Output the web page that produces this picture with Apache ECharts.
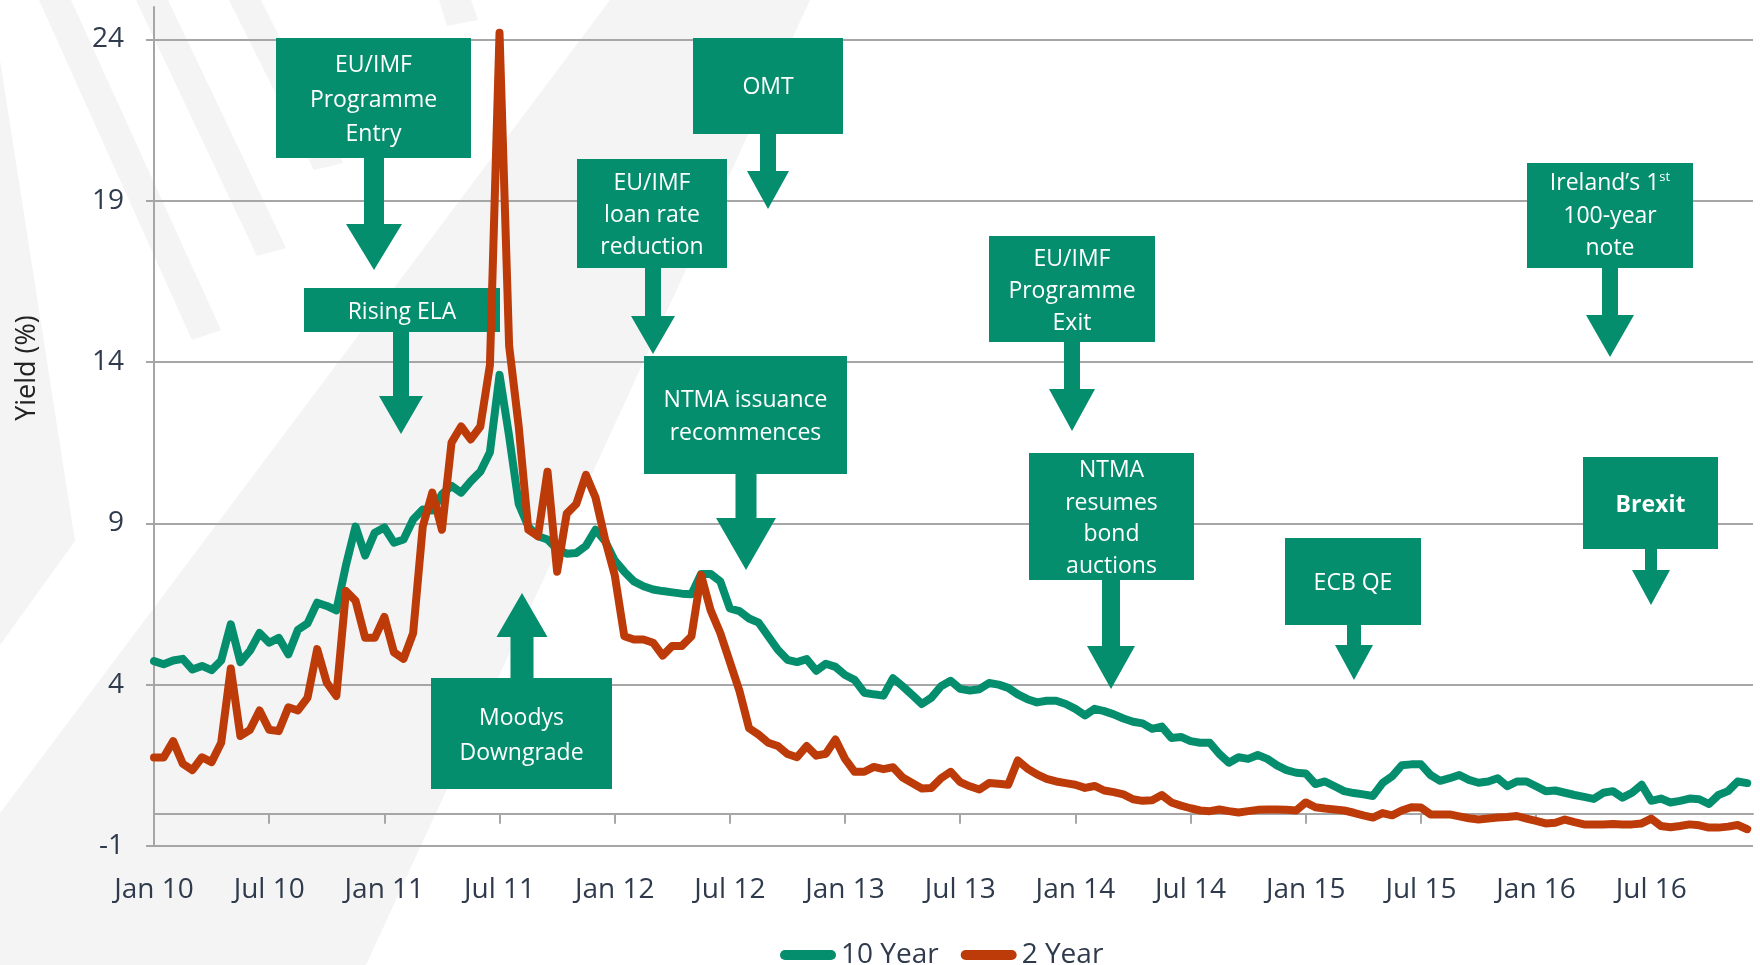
<!DOCTYPE html>
<html>
<head>
<meta charset="utf-8">
<script src="https://cdn.jsdelivr.net/npm/echarts@6/dist/echarts.min.js"></script>
<style>
  html, body { margin: 0; padding: 0; background: #fff; }
  #myChart { width: 1760px; height: 965px; }
</style>
</head>
<body>
<div id="myChart"></div>
<script>
// readings every half month, first point = Jan 2010
var monthStep = 0.5;
var tickMonths = [0, 6, 12, 18, 24, 30, 36, 42, 48, 54, 60, 66, 72, 78];
var tickLabels = ['Jan 10', 'Jul 10', 'Jan 11', 'Jul 11', 'Jan 12', 'Jul 12', 'Jan 13',
                  'Jul 13', 'Jan 14', 'Jul 14', 'Jan 15', 'Jul 15', 'Jan 16', 'Jul 16'];
var yTicks = [-1, 4, 9, 14, 19, 24];
var seriesNames = ['10 Year', '2 Year'];

var tenYear = [
  4.73, 4.63, 4.75, 4.8, 4.47, 4.58, 4.45, 4.75, 5.87, 4.7,
  5.05, 5.6, 5.3, 5.45, 4.94, 5.7, 5.9, 6.54, 6.44, 6.3,
  7.7, 8.9, 8.0, 8.71, 8.87, 8.4, 8.5, 9.12, 9.43, 9.4,
  9.9, 10.16, 9.95, 10.3, 10.6, 11.2, 13.6, 11.7, 9.6, 8.9,
  8.6, 8.5, 8.2, 8.06, 8.08, 8.3, 8.8, 8.45, 7.85, 7.5,
  7.2, 7.05, 6.95, 6.9, 6.86, 6.82, 6.8, 7.43, 7.43, 7.2,
  6.36, 6.28, 6.05, 5.92, 5.5, 5.08, 4.77, 4.7, 4.79, 4.43,
  4.65, 4.55, 4.3, 4.15, 3.75, 3.7, 3.66, 4.2, 3.95, 3.68,
  3.4, 3.6, 3.95, 4.12, 3.87, 3.82, 3.86, 4.05, 4.0, 3.9,
  3.7, 3.55, 3.45, 3.5, 3.5, 3.4, 3.25, 3.05, 3.25, 3.18,
  3.08, 2.95, 2.85, 2.8, 2.63, 2.7, 2.35, 2.38, 2.25, 2.2,
  2.2, 1.85, 1.58, 1.75, 1.7, 1.82, 1.7, 1.5, 1.35, 1.27,
  1.25, 0.92, 1.0, 0.85, 0.7, 0.64, 0.6, 0.55, 0.95, 1.16,
  1.5, 1.53, 1.53, 1.2, 1.02, 1.1, 1.2, 1.05, 0.96, 1.0,
  1.1, 0.85, 1.0, 1.0, 0.85, 0.7, 0.72, 0.65, 0.58, 0.52,
  0.46, 0.65, 0.7, 0.5, 0.65, 0.9, 0.4, 0.47, 0.35, 0.4,
  0.47, 0.45, 0.3, 0.58, 0.7, 1.0, 0.95
];

var twoYear = [
  1.74, 1.74, 2.25, 1.55, 1.35, 1.75, 1.6, 2.2, 4.5, 2.41,
  2.6, 3.2, 2.6, 2.56, 3.3, 3.2, 3.6, 5.1, 4.06, 3.65,
  6.9, 6.6, 5.45, 5.45, 6.1, 5.0, 4.8, 5.6, 8.9, 9.95,
  8.8, 11.5, 12.0, 11.6, 12.0, 13.9, 24.2, 14.5, 12.0, 8.8,
  8.6, 10.6, 7.5, 9.3, 9.6, 10.5, 9.8, 8.5, 7.4, 5.5,
  5.4, 5.4, 5.3, 4.9, 5.2, 5.2, 5.5, 7.4, 6.3, 5.6,
  4.7, 3.8, 2.65, 2.45, 2.2, 2.1, 1.85, 1.75, 2.1, 1.8,
  1.86, 2.3, 1.7, 1.3, 1.3, 1.45, 1.38, 1.44, 1.12, 0.95,
  0.78, 0.8, 1.1, 1.3, 0.98, 0.85, 0.75, 0.95, 0.93, 0.9,
  1.65, 1.4, 1.22, 1.08, 1.0, 0.95, 0.9, 0.8, 0.86, 0.72,
  0.67, 0.6, 0.45, 0.4, 0.42, 0.58, 0.35, 0.25, 0.17, 0.1,
  0.08, 0.13, 0.08, 0.04, 0.08, 0.12, 0.13, 0.13, 0.12, 0.1,
  0.35, 0.2, 0.16, 0.13, 0.1, 0.03, -0.05, -0.12, 0.02, -0.05,
  0.1, 0.2, 0.19, -0.02, -0.02, -0.02, -0.08, -0.14, -0.18, -0.15,
  -0.12, -0.1, -0.07, -0.15, -0.22, -0.3, -0.28, -0.18, -0.26, -0.33,
  -0.33, -0.33, -0.32, -0.33, -0.33, -0.3, -0.15, -0.38, -0.42, -0.38,
  -0.33, -0.36, -0.43, -0.43, -0.4, -0.35, -0.48
];

// annotation boxes: box [x, y, w, h], text line centres, arrow [cx, headBase, tip, shaftHalf, headHalf]
var notes = [
  { lines: ['EU/IMF', 'Programme', 'Entry'], box: [276, 38, 195, 120], ty: [65, 100, 134], arrow: [374, 224, 270, 10, 28] },
  { lines: ['Rising ELA'], box: [304, 288, 196, 44], ty: [312], arrow: [401, 396, 434, 8, 22] },
  { lines: ['Moodys', 'Downgrade'], box: [431, 678, 181, 111], ty: [718, 753], arrow: [522, 637, 593, 11.5, 25.5], up: true },
  { lines: ['EU/IMF', 'loan rate', 'reduction'], box: [577, 159, 150, 109], ty: [183, 215, 247], arrow: [653, 316, 354, 8, 22] },
  { lines: ['OMT'], box: [693, 38, 150, 96], ty: [87], arrow: [768, 171, 209, 8, 21] },
  { lines: ['NTMA issuance', 'recommences'], box: [644, 356, 203, 118], ty: [400, 433], arrow: [746, 518, 570, 10.5, 30] },
  { lines: ['EU/IMF', 'Programme', 'Exit'], box: [989, 236, 166, 106], ty: [259, 291, 323], arrow: [1072, 389, 431, 8, 23] },
  { lines: ['NTMA', 'resumes', 'bond', 'auctions'], box: [1029, 453, 165, 127], ty: [470, 503, 534, 566], arrow: [1111, 646, 689, 9, 24] },
  { lines: ['ECB QE'], box: [1285, 538, 136, 87], ty: [583], arrow: [1354, 645, 680, 7, 19] },
  { lines: ['Ireland\u2019s 1{sup|st}', '100-year', 'note'], box: [1527, 163, 166, 105], ty: [183, 216, 248], arrow: [1610, 315, 357, 8, 24] },
  { lines: ['Brexit'], box: [1583, 457, 135, 92], ty: [505], arrow: [1651, 570, 605, 6, 19], bold: true }
];

var green = '#048e6d';
var red = '#bd3a09';
var gridGrey = '#a6a6a6';
var labelColor = '#2f3b4c';
var font = '"Open Sans", sans-serif';

function toPoints(values) {
  return values.map(function (v, i) { return [i * monthStep, v]; });
}

function buildGraphics() {
  var bg = '#f4f4f4';
  var els = [];
  // faint background shapes
  var shapes = [
    [[610, 0], [810, 0], [366, 965], [0, 965], [0, 813]],
    [[39, 0], [71, 0], [221, 330], [192, 340]],
    [[136, 0], [168, 0], [286, 248], [257, 256]],
    [[229, 0], [261, 0], [343, 163], [314, 170]],
    [[439, 0], [471, 0], [478, 20], [447, 26]],
    [[0, 60], [75, 541], [0, 645]]
  ];
  shapes.forEach(function (p) {
    els.push({ type: 'polygon', z: -10, silent: true, shape: { points: p }, style: { fill: bg } });
  });

  notes.forEach(function (n) {
    var b = n.box, a = n.arrow;
    var cx = a[0], base = a[1], tip = a[2], sw = a[3], hw = a[4];
    var start = n.up ? b[1] : b[1] + b[3];
    els.push({ type: 'rect', z: 1, shape: { x: b[0], y: b[1], width: b[2], height: b[3] }, style: { fill: green } });
    els.push({
      type: 'polygon', z: 1,
      shape: { points: [[cx - sw, start], [cx + sw, start], [cx + sw, base], [cx + hw, base], [cx, tip], [cx - hw, base], [cx - sw, base]] },
      style: { fill: green }
    });
    n.lines.forEach(function (t, i) {
      els.push({
        type: 'text', z: 3,
        x: b[0] + b[2] / 2, y: n.ty[i],
        style: {
          text: t, fill: '#fff', align: 'center', verticalAlign: 'middle',
          fontSize: 23, fontFamily: font, fontWeight: n.bold ? 'bold' : 'normal',
          rich: { sup: { fontSize: 13, fill: '#fff', fontFamily: font, padding: [0, 0, 12, 0] } }
        }
      });
    });
  });

  els.push({
    type: 'text', z: 3, x: 27, y: 368, rotation: Math.PI / 2,
    style: { text: 'Yield (%)', fill: '#222', align: 'center', verticalAlign: 'middle', fontSize: 27, fontFamily: font }
  });
  return els;
}

var myChart = echarts.init(document.getElementById('myChart'));
myChart.setOption({
  animation: false,
  backgroundColor: '#fff',
  grid: { left: 154, right: 7, top: 7, bottom: 119 },
  legend: {
    data: seriesNames,
    left: 775, top: 936,
    itemWidth: 56, itemHeight: 10, itemGap: 22,
    icon: 'path://M5,0 L51,0 A5,5 0 0 1 51,10 L5,10 A5,5 0 0 1 5,0 Z',
    textStyle: { fontSize: 28, color: labelColor, fontFamily: font }
  },
  xAxis: [
    {
      type: 'value', min: 0, max: 83.3, position: 'bottom',
      axisLine: { show: false, onZero: false },
      axisTick: { show: false, customValues: tickMonths },
      splitLine: { show: false },
      axisLabel: {
        customValues: tickMonths, margin: 30,
        fontSize: 28, color: labelColor, fontFamily: font,
        formatter: function (v) { return tickLabels[tickMonths.indexOf(v)] || ''; }
      }
    },
    {
      type: 'value', min: 0, max: 83.3, position: 'bottom',
      axisLine: { show: true, onZero: true, lineStyle: { color: gridGrey, width: 2 } },
      axisTick: { show: true, customValues: tickMonths, length: 10, lineStyle: { color: gridGrey, width: 2 } },
      axisLabel: { show: false },
      splitLine: { show: false }
    }
  ],
  yAxis: {
    type: 'value', min: -1, max: 25,
    axisLine: { show: true, lineStyle: { color: gridGrey, width: 2 } },
    axisTick: { show: true, customValues: yTicks, length: 8, lineStyle: { color: gridGrey, width: 2 } },
    axisLabel: { customValues: yTicks, margin: 30, fontSize: 28, color: labelColor, fontFamily: font },
    splitLine: { show: true, lineStyle: { color: gridGrey, width: 2 } }
  },
  series: [
    {
      name: seriesNames[0], type: 'line', data: toPoints(tenYear),
      showSymbol: false, symbol: 'none', color: green,
      lineStyle: { width: 8, color: green, join: 'round', cap: 'round' }
    },
    {
      name: seriesNames[1], type: 'line', data: toPoints(twoYear),
      showSymbol: false, symbol: 'none', color: red,
      lineStyle: { width: 8, color: red, join: 'round', cap: 'round' }
    }
  ],
  graphic: buildGraphics()
});
</script>
</body>
</html>
